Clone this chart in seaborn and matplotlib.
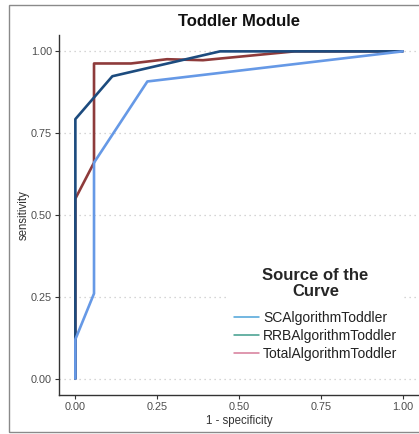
import matplotlib
matplotlib.use("Agg")
import matplotlib.pyplot as plt
import seaborn as sns
import pandas as pd
from matplotlib.lines import Line2D
from matplotlib.patches import Rectangle

# ---- data ----
curves = ["TotalAlgorithmToddler", "RRBAlgorithmToddler", "SCAlgorithmToddler"]
total_fpr = [0.0, 0.0, 0.057, 0.057, 0.17, 0.28, 0.39, 0.67, 1.0]
total_tpr = [0.0, 0.55, 0.66, 0.963, 0.963, 0.976, 0.973, 1.0, 1.0]
rrb_fpr = [0.0, 0.0, 0.113, 0.442, 1.0]
rrb_tpr = [0.0, 0.793, 0.924, 1.0, 1.0]
sc_fpr = [0.0, 0.0, 0.057, 0.057, 0.22, 1.0]
sc_tpr = [0.0, 0.12, 0.26, 0.66, 0.908, 1.0]
legend_labels = ["SCAlgorithmToddler", "RRBAlgorithmToddler", "TotalAlgorithmToddler"]
ticks = [0.0, 0.25, 0.5, 0.75, 1.0]
tick_labels = ["0.00", "0.25", "0.50", "0.75", "1.00"]

rows = []
for name, xs, ys in [(curves[0], total_fpr, total_tpr),
                     (curves[1], rrb_fpr, rrb_tpr),
                     (curves[2], sc_fpr, sc_tpr)]:
    for i, (a, b) in enumerate(zip(xs, ys)):
        rows.append({"curve": name, "order": i, "fpr": a, "tpr": b})
df = pd.DataFrame(rows)

line_colors = {"TotalAlgorithmToddler": "#8E3B3B",
               "RRBAlgorithmToddler": "#1C4B7E",
               "SCAlgorithmToddler": "#6699E6"}
legend_colors = ["#4BA3D9", "#3F9C8C", "#D67A98"]

sns.set_style("white")
plt.rcParams["font.family"] = ["Liberation Sans", "DejaVu Sans"]

fig = plt.figure(figsize=(4.19, 4.34), dpi=100)
ax = fig.add_axes([59/419, 39/434, 360/419, 360/434])

for name in curves:
    sub = df[df["curve"] == name]
    sns.lineplot(data=sub, x="fpr", y="tpr", sort=False, estimator=None,
                 color=line_colors[name], linewidth=1.9, ax=ax, legend=False)

ax.set_xlim(-0.05, 1.05)
ax.set_ylim(-0.05, 1.05)
ax.set_xticks(ticks)
ax.set_xticklabels(tick_labels)
ax.set_yticks(ticks)
ax.set_yticklabels(tick_labels)
for t in ticks:
    ax.axhline(t, color="#C8C8C8", linestyle=(0, (1, 3)), linewidth=0.9, zorder=0)
ax.tick_params(axis="both", labelsize=7.8, colors="#333333", length=3, width=0.8,
               labelcolor="#4D4D4D", bottom=True, left=True, pad=2)
ax.set_xlabel("1 - specificity", fontsize=8.3, color="#333333", labelpad=2)
ax.set_ylabel("sensitivity", fontsize=8.3, color="#333333", labelpad=1)
for s in ["top", "right"]:
    ax.spines[s].set_visible(False)
for s in ["left", "bottom"]:
    ax.spines[s].set_color("#333333")
    ax.spines[s].set_linewidth(1.0)

ax.set_title("Toddler Module", fontsize=12, fontweight="bold", color="#111111", pad=6.5)

handles = [Line2D([0], [0], color=c, linewidth=1.1) for c in legend_colors]
leg = ax.legend(handles, legend_labels, title="Source of the\nCurve",
                loc="lower left", bbox_to_anchor=(0.447, 0.057), frameon=True,
                fontsize=10, handlelength=1.8, handletextpad=0.3,
                labelspacing=0.27, borderpad=0.5)
leg.get_frame().set_edgecolor("none")
leg.get_frame().set_facecolor("white")
leg.get_frame().set_alpha(1)
leg.get_title().set_fontsize(12)
leg.get_title().set_fontweight("bold")
leg.get_title().set_multialignment("center")
leg.get_title().set_linespacing(1.05)
leg._legend_box.align = "center"
leg._legend_box.sep = 9
for t in leg.get_texts():
    t.set_color("#222222")

fig.add_artist(Rectangle((9/419, 2/434), 1.0, 427/434, transform=fig.transFigure,
                         fill=False, edgecolor="#8A8A8A", linewidth=1.0))

fig.savefig("out.png", dpi=100, facecolor="white")
